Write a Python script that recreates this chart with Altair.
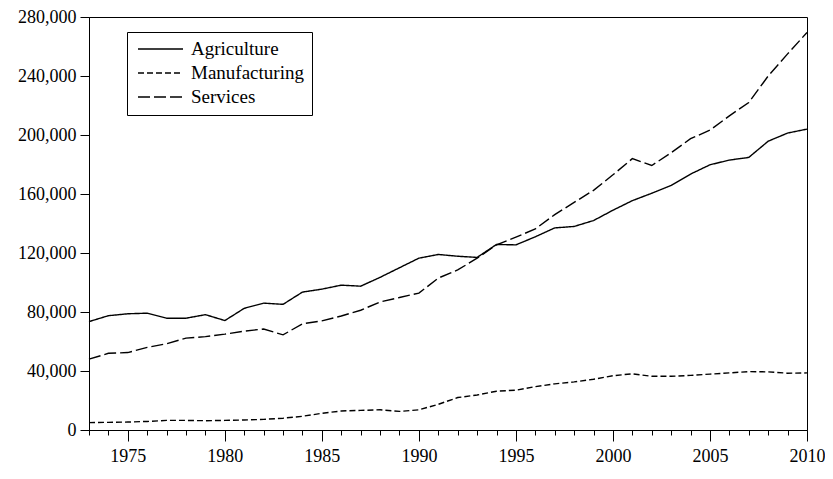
import altair as alt
import pandas as pd

years = list(range(1973, 2011))

agriculture = [73500, 77500, 78800, 79200, 75800, 75800, 78200, 74200, 82500, 86000,
               85200, 93500, 95500, 98200, 97500, 103500, 110000, 116500, 119000, 117800,
               117000, 125800, 125500, 131000, 137000, 138000, 142000, 149000, 155500, 160500,
               165800, 173500, 179800, 183000, 184800, 195800, 201300, 204000]

manufacturing = [5000, 5200, 5400, 5800, 6500, 6500, 6300, 6500, 6800, 7200,
                 8000, 9300, 11300, 12900, 13300, 13700, 12600, 13700, 17400, 22000,
                 23700, 26300, 27000, 29400, 31300, 32600, 34400, 36800, 38100, 36400,
                 36400, 37000, 37900, 38700, 39600, 39400, 38500, 38700]

services = [48000, 52000, 52500, 56000, 58500, 62300, 63300, 65000, 67000, 68500,
            64500, 72000, 74000, 77300, 81200, 86800, 89800, 92800, 103000, 108500,
            116500, 125500, 130800, 136300, 146000, 154300, 162500, 173000, 184000, 179300,
            188000, 197500, 203300, 213000, 222000, 240000, 255000, 269500]

series_names = ["Agriculture", "Manufacturing", "Services"]
y_ticks = [0, 40000, 80000, 120000, 160000, 200000, 240000, 280000]

rows = []
for name, vals in zip(series_names, [agriculture, manufacturing, services]):
    for yr, v in zip(years, vals):
        rows.append({"year": yr, "value": v, "series": name})
df = pd.DataFrame(rows)

FONT = "Liberation Serif"

chart = alt.Chart(df).mark_line(color="black", strokeWidth=1.4).encode(
    x=alt.X("year:Q",
            scale=alt.Scale(domain=[1973, 2010], nice=False, zero=False),
            axis=alt.Axis(values=years, format="d",
                          labelExpr="datum.value % 5 === 0 ? datum.label : ''",
                          tickSize={"condition": {"test": "datum.value % 5 === 0", "value": 11}, "value": 5},
                          labelPadding=6, labelFlush=False, labelOverlap=False,
                          grid=False, title=None)),
    y=alt.Y("value:Q",
            scale=alt.Scale(domain=[0, 280000], nice=False),
            axis=alt.Axis(values=y_ticks, format=",.0f", tickSize=9, labelPadding=4,
                          grid=False, title=None)),
    strokeDash=alt.StrokeDash("series:N",
                              scale=alt.Scale(domain=series_names,
                                              range=[[1, 0], [6, 3], [12, 4]]),
                              legend=alt.Legend(title=None, orient="none",
                                                legendX=38, legendY=15,
                                                symbolType="stroke", symbolSize=2025,
                                                symbolStrokeWidth=1.4,
                                                symbolStrokeColor="black",
                                                symbolOffset=2,
                                                clipHeight=18, rowPadding=5,
                                                labelFont=FONT, labelFontSize=19,
                                                labelColor="black", labelOffset=7,
                                                padding=8, strokeColor="black",
                                                fillColor="white")),
).properties(
    width=718, height=413,
    padding={"left": 81, "top": 9, "right": 18, "bottom": 36},
    autosize=alt.AutoSizeParams(type="none"),
).configure_view(
    stroke="black", strokeWidth=1
).configure_axis(
    labelFont=FONT, labelFontSize=18, labelColor="black",
    tickColor="black", domainColor="black", tickWidth=1, domainWidth=1
)

chart.save("out.html", embed_options={"renderer": "svg", "actions": False})
